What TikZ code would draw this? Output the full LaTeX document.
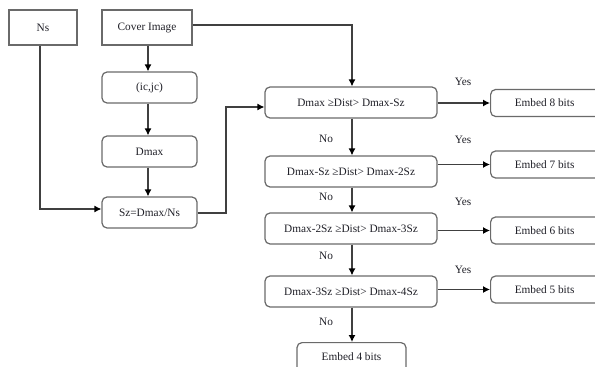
\documentclass[tikz,border=0pt]{standalone}
\usepackage{fontspec}
\setmainfont{Liberation Serif}
\usetikzlibrary{arrows.meta}
\definecolor{linec}{HTML}{404040}
\definecolor{boxc}{HTML}{6A6A6A}
\definecolor{txtc}{HTML}{202028}
\begin{document}
\begin{tikzpicture}[x=1pt,y=-1pt,
  every node/.style={font=\fontsize{11.3}{13}\selectfont, text=txtc, inner sep=0pt},
  sqbox/.style={draw=boxc, line width=1.2pt, minimum height=35pt},
  rbox/.style={draw=boxc, line width=1.2pt, rounded corners=5pt, minimum height=31pt},
  ebox/.style={draw=boxc, line width=1.2pt, rounded corners=5pt, minimum height=27pt, minimum width=120pt, anchor=west},
  conn/.style={draw=linec, line width=1.2pt},
  arr/.style={conn, -{Latex[length=7pt,width=7pt,color=black]}},
  lab/.style={font=\fontsize{11.3}{13}\selectfont}
]
\clip (0,0) rectangle (595,367);
\fill[white] (0,0) rectangle (595,367);

\node[sqbox, minimum width=68pt] (ns) at (43,27.5) {Ns};
\node[sqbox, minimum width=90pt] (cover) at (147,27.5) {Cover Image};
\node[rbox, minimum width=95pt] (ij) at (149.5,87.5) {(ic,jc)};
\node[rbox, minimum width=95pt] (dmax) at (149.5,151.5) {Dmax};
\node[rbox, minimum width=95pt] (sz) at (149.5,212.5) {Sz=Dmax/Ns};

\node[rbox, minimum width=172pt] (d1) at (351,102.5) {Dmax ≥Dist> Dmax-Sz};
\node[rbox, minimum width=172pt] (d2) at (351,171.5) {Dmax-Sz ≥Dist> Dmax-2Sz};
\node[rbox, minimum width=172pt] (d3) at (351,228.5) {Dmax-2Sz ≥Dist> Dmax-3Sz};
\node[rbox, minimum width=172pt] (d4) at (351,291.5) {Dmax-3Sz ≥Dist> Dmax-4Sz};

\node[ebox] (e8) at (490,103) {\hspace*{-12pt}Embed 8 bits};
\node[ebox] (e7) at (490,164.5) {\hspace*{-12pt}Embed 7 bits};
\node[ebox] (e6) at (490,230.5) {\hspace*{-12pt}Embed 6 bits};
\node[ebox] (e5) at (490,289.5) {\hspace*{-12pt}Embed 5 bits};
\node[rbox, minimum width=109pt, minimum height=30pt, anchor=north, text depth=0pt] (e4) at (351.5,342) {\raisebox{3pt}{Embed 4 bits}};

\node[lab] (y1) at (463,82) {Yes};
\node[lab] (y2) at (463,140) {Yes};
\node[lab] (y3) at (463,202) {Yes};
\node[lab] (y4) at (463,270) {Yes};
\node[lab] (n1) at (326,139) {No};
\node[lab] (n2) at (326,197) {No};
\node[lab] (n3) at (326,256) {No};
\node[lab] (n4) at (326,322) {No};

\draw[arr] (cover.south -| 148,0) -- (ij.north -| 148,0);
\draw[arr] (ij.south -| 148,0) -- (dmax.north -| 148,0);
\draw[arr] (dmax.south -| 148,0) -- (sz.north -| 148,0);
\draw[arr] (ns.south -| 40,0) |- (sz.west |- 0,209);
\draw[arr] (sz.east |- 0,213) -| (226,107) -- (d1.west |- 0,107);
\draw[arr] (cover.east |- 0,25) -| (d1.north -| 352,0);

\draw[arr] (d1.south -| 352,0) -- (d2.north -| 352,0);
\draw[arr] (d2.south -| 352,0) -- (d3.north -| 352,0);
\draw[arr] (d3.south -| 352,0) -- (d4.north -| 352,0);
\draw[arr] (d4.south -| 352,0) -- (e4.north -| 352,0);

\draw[arr] (e8.west -| d1.east) -- (e8.west);
\draw[arr] (e7.west -| d2.east) -- (e7.west);
\draw[arr] (e6.west -| d3.east) -- (e6.west);
\draw[arr] (e5.west -| d4.east) -- (e5.west);
\end{tikzpicture}
\end{document}
